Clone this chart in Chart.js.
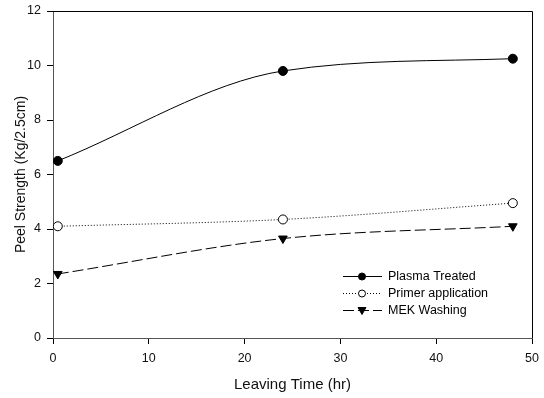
<!DOCTYPE html>
<html>
<head>
<meta charset="utf-8">
<script src="https://cdn.jsdelivr.net/npm/chart.js@4/dist/chart.umd.min.js"></script>
<style>
  html, body { margin: 0; padding: 0; background: #fff; }
  #wrap { width: 544px; height: 398px; }
</style>
</head>
<body>
<div id="wrap"><canvas id="grafica" width="544" height="398"></canvas></div>
<script>
const tiempos = [0.5, 24, 48]
const plasma = [6.5, 9.8, 10.25]
const primer = [4.1, 4.35, 4.95]
const mek = [2.35, 3.65, 4.1]
const etiquetas = ['Plasma Treated', 'Primer application', 'MEK Washing']

const fuente = 'Liberation Sans, Arial, sans-serif'

function puntos(ys) {
  return tiempos.map((x, i) => ({ x, y: ys[i] }))
}

// caja + leyenda dibujadas a mano
const marco = {
  id: 'marco',
  afterDraw(chart) {
    const { ctx, chartArea: a } = chart
    ctx.save()
    ctx.strokeStyle = '#000'
    ctx.lineWidth = 1
    ctx.beginPath()
    ctx.moveTo(a.left, a.top + 0.5)
    ctx.lineTo(a.right + 0.5, a.top + 0.5)
    ctx.lineTo(a.right + 0.5, a.bottom)
    ctx.stroke()

    const filas = [276, 293, 310]
    const x0 = 343, x1 = 382, xm = 362
    chart.data.datasets.forEach((ds, i) => {
      const y = filas[i] + 0.5
      ctx.setLineDash(ds.borderDash || [])
      ctx.strokeStyle = '#000'
      ctx.lineWidth = 1
      ctx.beginPath()
      ctx.moveTo(x0, y)
      ctx.lineTo(x1, y)
      ctx.stroke()
      ctx.setLineDash([])
      ctx.fillStyle = ds.pointBackgroundColor
      ctx.beginPath()
      if (ds.pointStyle === 'triangle') {
        ctx.moveTo(xm - 4, y - 3)
        ctx.lineTo(xm + 4, y - 3)
        ctx.lineTo(xm, y + 4)
        ctx.closePath()
      } else {
        ctx.arc(xm, y, 3.5, 0, Math.PI * 2)
      }
      ctx.fill()
      ctx.stroke()
      ctx.fillStyle = '#000'
      ctx.font = '12.5px ' + fuente
      ctx.textBaseline = 'middle'
      ctx.fillText(etiquetas[i], 388, y)
    })
    ctx.restore()
  }
}

const ctx = document.getElementById('grafica').getContext('2d')
new Chart(ctx, {
  type: 'scatter',
  data: {
    datasets: [
      { label: etiquetas[0], data: puntos(plasma), showLine: true, borderColor: '#000', borderWidth: 1,
        cubicInterpolationMode: 'monotone', pointStyle: 'circle', pointRadius: 4.5,
        pointBackgroundColor: '#000', pointBorderColor: '#000' },
      { label: etiquetas[1], data: puntos(primer), showLine: true, borderColor: '#000', borderWidth: 1,
        borderDash: [1, 2], cubicInterpolationMode: 'monotone', pointStyle: 'circle', pointRadius: 4.5,
        pointBackgroundColor: '#fff', pointBorderColor: '#000' },
      { label: etiquetas[2], data: puntos(mek), showLine: true, borderColor: '#000', borderWidth: 1,
        borderDash: [11, 4], cubicInterpolationMode: 'monotone', pointStyle: 'triangle', rotation: 180,
        pointRadius: 5, pointBackgroundColor: '#000', pointBorderColor: '#000' }
    ]
  },
  options: {
    responsive: false,
    animation: false,
    layout: { padding: { top: 11, right: 12, left: 0, bottom: 0 } },
    plugins: { legend: { display: false }, tooltip: { enabled: false } },
    scales: {
      x: {
        type: 'linear', min: 0, max: 50,
        ticks: { stepSize: 10, color: '#111', font: { family: fuente, size: 12.5 }, padding: 7 },
        grid: { drawOnChartArea: false, drawTicks: true, tickLength: 6, color: '#000' },
        border: { color: '#555', width: 1 },
        title: { display: true, text: 'Leaving Time (hr)', color: '#111', font: { family: fuente, size: 15 }, padding: { top: 10 } },
        afterFit(s) { s.height = 60; s.paddingLeft = 0; s.paddingRight = 0 }
      },
      y: {
        min: 0, max: 12,
        ticks: { stepSize: 2, color: '#111', font: { family: fuente, size: 12.5 }, padding: 6 },
        grid: { drawOnChartArea: false, drawTicks: true, tickLength: 6, color: '#000' },
        border: { color: '#555', width: 1 },
        title: { display: true, text: 'Peel Strength (Kg/2.5cm)', color: '#111', font: { family: fuente, size: 14 }, padding: { bottom: 0, top: 13 } },
        afterFit(s) { s.width = 53; s.paddingTop = 0; s.paddingBottom = 0 }
      }
    }
  },
  plugins: [marco]
})
</script>
</body>
</html>
